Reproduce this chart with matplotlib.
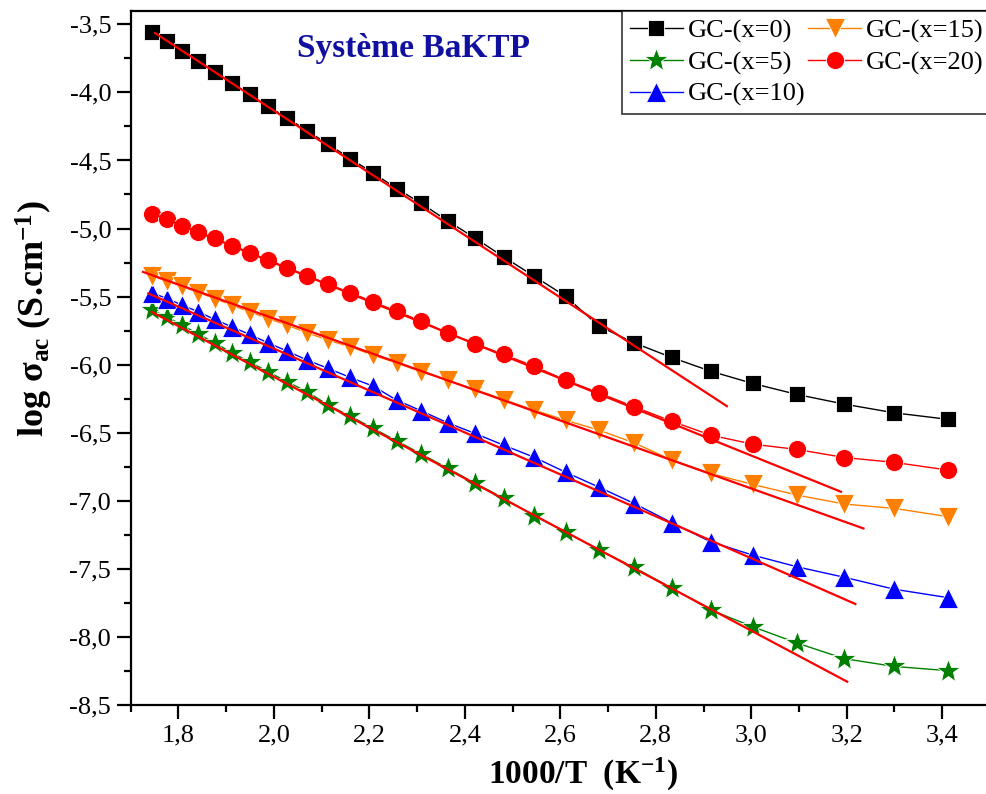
import matplotlib
matplotlib.use("Agg")
import matplotlib.pyplot as plt
from matplotlib.ticker import MultipleLocator, FuncFormatter

plt.rcParams['font.family'] = 'Liberation Serif'
plt.rcParams['mathtext.fontset'] = 'custom'
plt.rcParams['mathtext.rm'] = 'Liberation Serif'
plt.rcParams['mathtext.it'] = 'Liberation Serif:italic'
plt.rcParams['mathtext.bf'] = 'Liberation Serif:bold'

# 1000/T values (K^-1)
inv_T = [1.745, 1.776, 1.808, 1.842, 1.876, 1.912, 1.949, 1.988, 2.028, 2.070,
         2.114, 2.160, 2.208, 2.257, 2.309, 2.364, 2.421, 2.481, 2.545, 2.611,
         2.681, 2.755, 2.833, 2.915, 3.003, 3.096, 3.195, 3.300, 3.413]

# log sigma_ac for each glass ceramic
gc_x0 = [-3.557, -3.625, -3.696, -3.769, -3.850, -3.931, -4.014, -4.102, -4.188, -4.283,
         -4.381, -4.486, -4.592, -4.706, -4.816, -4.944, -5.069, -5.208, -5.350, -5.497,
         -5.717, -5.840, -5.947, -6.048, -6.138, -6.219, -6.290, -6.354, -6.402]
gc_x5 = [-5.600, -5.649, -5.710, -5.776, -5.840, -5.913, -5.979, -6.053, -6.126, -6.200,
         -6.297, -6.378, -6.468, -6.559, -6.657, -6.760, -6.870, -6.980, -7.110, -7.230,
         -7.360, -7.490, -7.640, -7.802, -7.925, -8.045, -8.160, -8.217, -8.248]
gc_x10 = [-5.473, -5.514, -5.563, -5.612, -5.668, -5.722, -5.778, -5.840, -5.901, -5.967,
          -6.028, -6.094, -6.158, -6.260, -6.340, -6.427, -6.505, -6.591, -6.680, -6.790,
          -6.900, -7.020, -7.160, -7.301, -7.399, -7.485, -7.562, -7.650, -7.712]
gc_x15 = [-5.350, -5.385, -5.424, -5.470, -5.514, -5.563, -5.612, -5.661, -5.710, -5.767,
          -5.820, -5.869, -5.930, -5.987, -6.053, -6.114, -6.182, -6.256, -6.334, -6.408,
          -6.481, -6.575, -6.700, -6.799, -6.880, -6.958, -7.024, -7.056, -7.117]
gc_x20 = [-4.890, -4.932, -4.981, -5.025, -5.073, -5.125, -5.179, -5.233, -5.289, -5.348,
          -5.411, -5.470, -5.539, -5.607, -5.681, -5.767, -5.845, -5.925, -6.011, -6.114,
          -6.207, -6.310, -6.415, -6.518, -6.584, -6.623, -6.682, -6.718, -6.775]

labels = ['GC-(x=0)', 'GC-(x=5)', 'GC-(x=10)', 'GC-(x=15)', 'GC-(x=20)']
series = [gc_x0, gc_x5, gc_x10, gc_x15, gc_x20]
colors = ['black', '#008000', '#0000FF', '#FF8000', '#FF0000']
markers = ['s', '*', '^', 'v', 'o']
msizes = [11.5, 18, 14, 14, 13]

# linear (Arrhenius) fits: start/end points
fit_x_start = [1.751, 1.744, 1.737, 1.726, 1.745]
fit_x_end = [2.949, 3.201, 3.218, 3.235, 3.188]
fit_y_start = [-3.564, -5.612, -5.477, -5.319, -4.890]
fit_y_end = [-6.305, -8.329, -7.758, -7.203, -6.934]

fig = plt.figure(figsize=(9.87, 7.94), dpi=100)
ax = fig.add_axes([0.1324, 0.1121, 0.8706, 0.8744])

for yv, lab, c, m, ms in zip(series, labels, colors, markers, msizes):
    ax.plot(inv_T, yv, color=c, lw=1, marker=m, ms=ms, mfc=c, mec='white',
            mew=0.6, label=lab, zorder=3)

for xs, xe, ys, ye in zip(fit_x_start, fit_x_end, fit_y_start, fit_y_end):
    ax.plot([xs, xe], [ys, ye], color='#FF0000', lw=1.6, zorder=4)

ax.set_xlim(1.7, 3.5)
ax.set_ylim(-8.5, -3.4)
ax.xaxis.set_major_locator(MultipleLocator(0.2))
ax.xaxis.set_minor_locator(MultipleLocator(0.1))
ax.yaxis.set_major_locator(MultipleLocator(0.5))
ax.yaxis.set_minor_locator(MultipleLocator(0.25))
comma = FuncFormatter(lambda v, p: f'{v:.1f}'.replace('.', ','))
ax.xaxis.set_major_formatter(comma)
ax.yaxis.set_major_formatter(comma)
ax.tick_params(which='major', direction='out', length=10, width=1.6, labelsize=19, pad=4)
ax.tick_params(which='minor', direction='out', length=5, width=1.6)
for s in ax.spines.values():
    s.set_linewidth(1.6)
ax.set_xticks([t for t in ax.get_xticks() if 1.75 < t < 3.45])

ax.set_xlabel(r'1000/T  (K$^{\mathbf{-1}}$)', fontsize=24, fontweight='bold')
ax.set_ylabel(r'log $\mathbf{\sigma}_{\mathbf{ac}}$ (S.cm$^{\mathbf{-1}}$)',
              fontsize=26, fontweight='bold')
ax.xaxis.set_label_coords(0.526, -0.074)
ax.yaxis.set_label_coords(-0.088, 0.557)

ax.text(0.329, 0.945, 'Système BaKTP', transform=ax.transAxes, fontsize=24,
        fontweight='bold', color='#1010A0', ha='center', va='center')

leg = ax.legend(ncol=2, loc='upper left', bbox_to_anchor=(622 / 987, 1 - 11 / 794),
                bbox_transform=fig.transFigure, fontsize=19, frameon=True,
                fancybox=False, edgecolor='black', borderaxespad=0, borderpad=0.3,
                handlelength=2.0, handletextpad=0.2, columnspacing=0.1,
                labelspacing=0.3)
leg.get_frame().set_linewidth(1.2)

fig.savefig('out.png', dpi=100)
